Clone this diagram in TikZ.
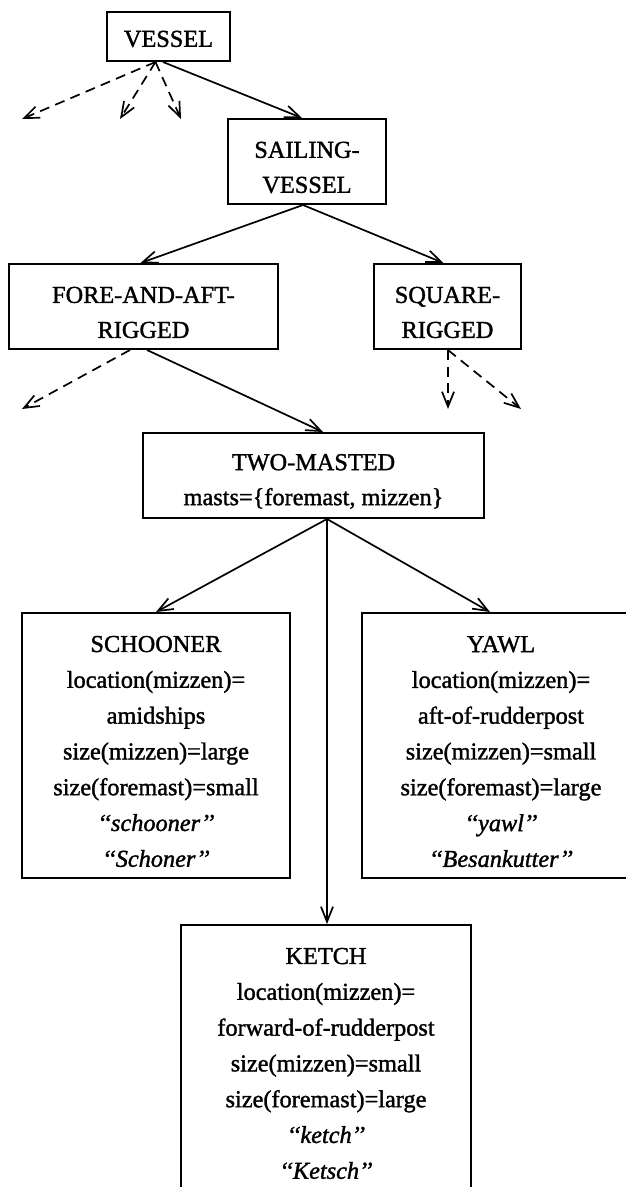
\documentclass[tikz,border=0pt]{standalone}
\usepackage{fontspec}
\setmainfont{Liberation Serif}[FakeBold=1.4]
\usetikzlibrary{arrows.meta}
\newcommand\myTopStrut{\rule{0pt}{28pt}}
\begin{document}
\begin{tikzpicture}[x=1pt,y=-1pt,
  box/.style={draw, line width=2pt, inner sep=0pt, align=center,
    font=\fontsize{24.3}{35}\selectfont},
  tall/.style={box, minimum height=265pt, font=\fontsize{24.3}{35.8}\selectfont},
  arr/.style={line width=1.7pt, -{Straight Barb[length=15pt,width=12pt,line width=1.7pt]}},
  darr/.style={arr, dash pattern=on 10pt off 6.5pt}]
\useasboundingbox (0,0) rectangle (626,1187);
\clip (0,0) rectangle (626,1187);

\node[box, minimum width=123pt, minimum height=49pt] (vessel) at (168.5,36.5) {\rule{0pt}{21pt}VESSEL};
\node[box, minimum width=158pt, minimum height=85pt] (sailing) at (307,161.5) {\myTopStrut SAILING-\\VESSEL};
\node[box, minimum width=269pt, minimum height=85pt] (fore) at (143.5,306.5) {\myTopStrut FORE-AND-AFT-\\RIGGED};
\node[box, minimum width=147pt, minimum height=85pt] (square) at (447.5,306.5) {\myTopStrut SQUARE-\\RIGGED};
\node[box, minimum width=341pt, minimum height=85pt] (two) at (313.5,475.5) {\myTopStrut TWO-MASTED\\masts=\{foremast, mizzen\}};
\node[tall, minimum width=268pt] (schooner) at (156,745.5)
  {\myTopStrut SCHOONER\\location(mizzen)=\\amidships\\size(mizzen)=large\\size(foremast)=small\\\textit{‘‘schooner’’}\\\textit{‘‘Schoner’’}};
\node[tall, minimum width=278pt, align=none] (yawl) at (501,745.5)
  {\begin{tabular}{@{}c@{}}\rule{0pt}{38.7pt}YAWL\\location(mizzen)=\\aft-of-rudderpost\\size(mizzen)=small\\size(foremast)=large\\\textit{‘‘yawl’’}\\\textit{‘‘Besankutter’’}\end{tabular}\hspace{22pt}};
\node[tall, minimum width=290pt] (ketch) at (326,1057.5)
  {\myTopStrut KETCH\\location(mizzen)=\\forward-of-rudderpost\\size(mizzen)=small\\size(foremast)=large\\\textit{‘‘ketch’’}\\\textit{‘‘Ketsch’’}};

\coordinate (v1) at (22,119);
\coordinate (v2) at (120,119);
\coordinate (v3) at (181,119);
\coordinate (f1) at (22,409);
\coordinate (s1) at (448,409);
\coordinate (s2) at (521,409);

\draw[arr] ([xshift=-5.5pt]vessel.south) -- ([xshift=-5pt]sailing.north);
\draw[darr] ([xshift=-13pt]vessel.south) -- (v1);
\draw[darr] ([xshift=-13pt]vessel.south) -- (v2);
\draw[darr] ([xshift=-13pt]vessel.south) -- (v3);

\draw[arr] ([xshift=-4pt]sailing.south) -- ([xshift=-3pt]fore.north);
\draw[arr] ([xshift=-4pt]sailing.south) -- ([xshift=-4pt]square.north);

\draw[darr] ([xshift=-13.5pt]fore.south) -- (f1);
\draw[arr] ([xshift=3.5pt]fore.south) -- ([xshift=9.5pt]two.north);

\draw[darr] ([xshift=0.5pt]square.south) -- (s1);
\draw[darr] ([xshift=0.5pt]square.south) -- (s2);

\draw[arr] ([xshift=13.5pt]two.south) -- (schooner.north);
\draw[arr] ([xshift=13.5pt]two.south) -- ([xshift=-11pt]yawl.north);
\draw[arr] ([xshift=13.5pt]two.south) -- ([xshift=1pt]ketch.north);
\end{tikzpicture}
\end{document}
